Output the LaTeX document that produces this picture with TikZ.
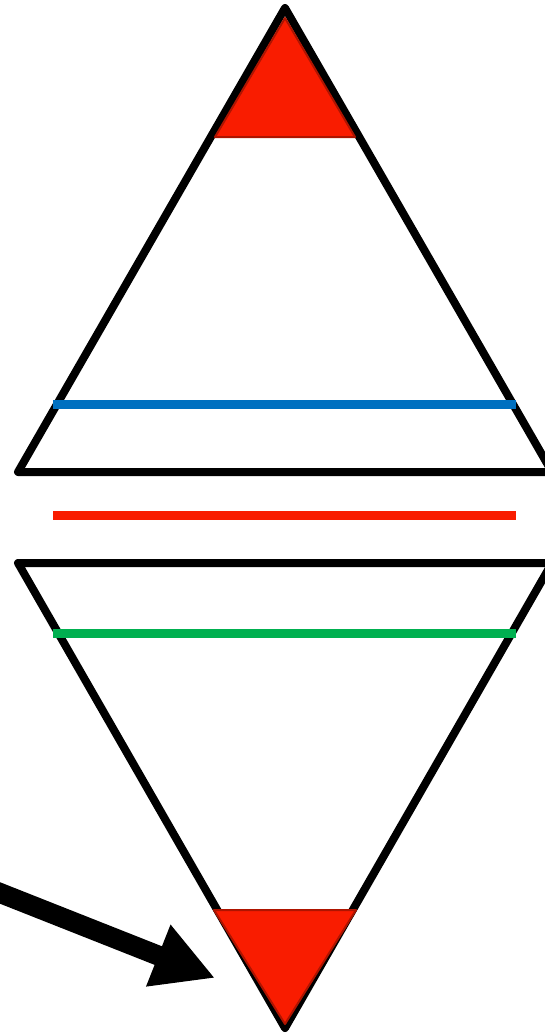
\documentclass[tikz,border=0pt]{standalone}
\usepackage{tikz}
\usetikzlibrary{arrows.meta}

\definecolor{hotred}{HTML}{F91C00}
\definecolor{lineblue}{HTML}{0070C0}
\definecolor{linegreen}{HTML}{00B050}

\begin{document}
\begin{tikzpicture}[
  x=1pt, y=-1pt,
  outline/.style={draw=black, line width=8pt, line join=round},
  tipfill/.style={fill=hotred, draw=hotred!70!black, line width=2pt, line join=round},
  level/.style={line width=9pt},
  pointer/.style={line width=20pt, -{Triangle[length=61pt, width=62pt]}},
]
\useasboundingbox (0,0) rectangle (545,1036);
\clip (0,0) rectangle (545,1036);

% upper triangle
\coordinate (uapex) at (285,8);
\coordinate (uleft) at (18,472);
\coordinate (uright) at (552,472);
\draw[outline] (uapex) -- (uleft) -- (uright) -- cycle;

% lower triangle
\coordinate (lleft) at (18,563);
\coordinate (lright) at (552,563);
\coordinate (lapex) at (285,1028);
\draw[outline] (lleft) -- (lright) -- (lapex) -- cycle;

% red tips
\filldraw[tipfill] (285,18) -- (215,137) -- (355,137) -- cycle;
\filldraw[tipfill] (214,910) -- (356,910) -- (285,1024) -- cycle;

% horizontal levels
\coordinate (b1) at (53,404);  \coordinate (b2) at (516,404);
\coordinate (r1) at (53,515);  \coordinate (r2) at (516,515);
\coordinate (g1) at (53,633);  \coordinate (g2) at (516,633);
\draw[level, lineblue] (b1) -- (b2);
\draw[level, hotred] (r1) -- (r2);
\draw[level, linegreen] (g1) -- (g2);

% arrow
\coordinate (arrfrom) at (-10,889);
\coordinate (arrto) at (215,978);
\draw[pointer] (arrfrom) -- (arrto);
\end{tikzpicture}
\end{document}
